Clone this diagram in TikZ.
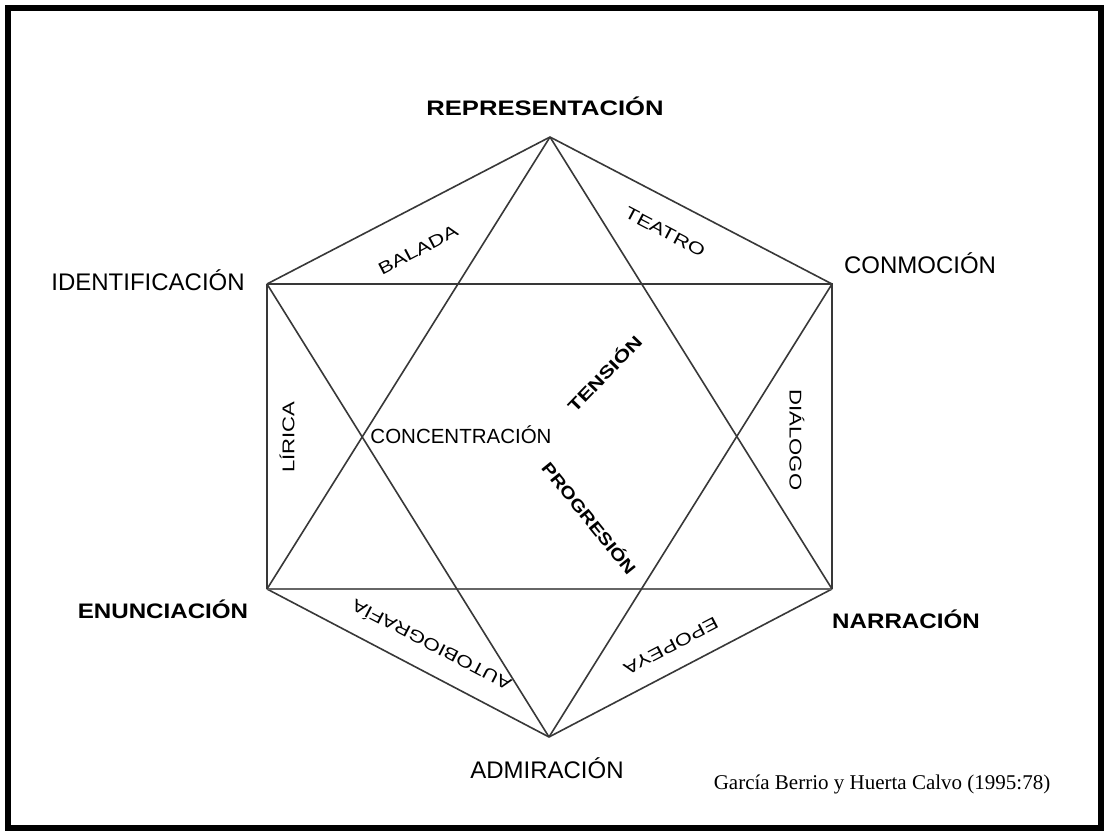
\documentclass[tikz,border=0pt]{standalone}
\usepackage{fontspec}
\setmainfont{Liberation Sans}
\newfontfamily\citefont{Liberation Serif}
\newcommand{\bigreg}[1]{{\fontsize{24}{24}\selectfont #1}}
\newcommand{\bigbold}[2][1.18]{\scalebox{#1}[1]{\fontsize{21}{21}\selectfont\bfseries #2}}
\newcommand{\smalllab}[2][1.3]{\scalebox{#1}[1]{\fontsize{17}{17}\selectfont #2}}
\newcommand{\smallbold}[2][1.25]{\scalebox{#1}[1]{\fontsize{17}{17}\selectfont\bfseries #2}}
\tikzset{
  edge/.style={draw=black!78, line width=1.6pt},
  lab/.style={inner sep=0pt, anchor=base},
  rlab/.style={inner sep=0pt, anchor=center},
}
\begin{document}
\begin{tikzpicture}[x=1pt,y=-1pt]
\useasboundingbox (0,0) rectangle (1109,836);
\fill[white] (0,0) rectangle (1109,836);
\draw[line width=6pt] (8,8) rectangle (1101,828);
% vertices
\coordinate (T) at (550,137);
\coordinate (UR) at (832,284);
\coordinate (LR) at (832,589);
\coordinate (B) at (549,737);
\coordinate (LL) at (267,589);
\coordinate (UL) at (267,284);
% hexagon outer edges
\draw[edge] (T) -- (UL);
\draw[edge] (T) -- (UR);
\draw[edge] (LL) -- (B);
\draw[edge] (B) -- (LR);
% rectangle
\draw[edge] (UL) -- (UR) -- (LR);
\draw[edge] (UL) -- (LL);
\draw[edge, line width=2.6pt, draw=black!60] (LL) -- (LR);
% triangles
\draw[edge] (T) -- (LL);
\draw[edge] (T) -- (LR);
\draw[edge] (B) -- (UL);
\draw[edge] (B) -- (UR);
% vertex labels
\node[lab] (rep) at (545,115) {\bigbold[1.22]{REPRESENTACIÓN}};
\node[lab] (ide) at (148,290) {\bigreg{IDENTIFICACIÓN}};
\node[lab] (con) at (920,273) {\bigreg{CONMOCIÓN}};
\node[lab] (enu) at (163,618) {\bigbold[1.15]{ENUNCIACIÓN}};
\node[lab] (nar) at (906,628) {\bigbold[1.15]{NARRACIÓN}};
\node[lab] (adm) at (547,778) {\bigreg{ADMIRACIÓN}};
% inner labels
\node[lab] (conc) at (461,443) {{\fontsize{20.5}{20.5}\selectfont CONCENTRACIÓN}};
\node[rlab, rotate=27.6] (bal) at (418,250) {\smalllab{BALADA}};
\node[rlab, rotate=-27.6] (tea) at (665,232) {\smalllab{TEATRO}};
\node[rlab, rotate=90] (lir) at (287,437) {\smalllab{LÍRICA}};
\node[rlab, rotate=-90] (dia) at (797,440) {\smalllab{DIÁLOGO}};
\node[rlab, rotate=152.5] (aut) at (431,646) {\smalllab[1.27]{AUTOBIOGRAFÍA}};
\node[rlab, rotate=207.5] (epo) at (671,646) {\smalllab{EPOPEYA}};
\node[rlab, rotate=46] (ten) at (604,373) {\smallbold[1.3]{TENSIÓN}};
\node[rlab, rotate=-51] (pro) at (590,518) {\smallbold[1.2]{PROGRESIÓN}};
% citation
\node[lab] (cit) at (882,789) {\citefont\fontsize{21}{21}\selectfont García Berrio y Huerta Calvo (1995:78)};
\end{tikzpicture}
\end{document}
